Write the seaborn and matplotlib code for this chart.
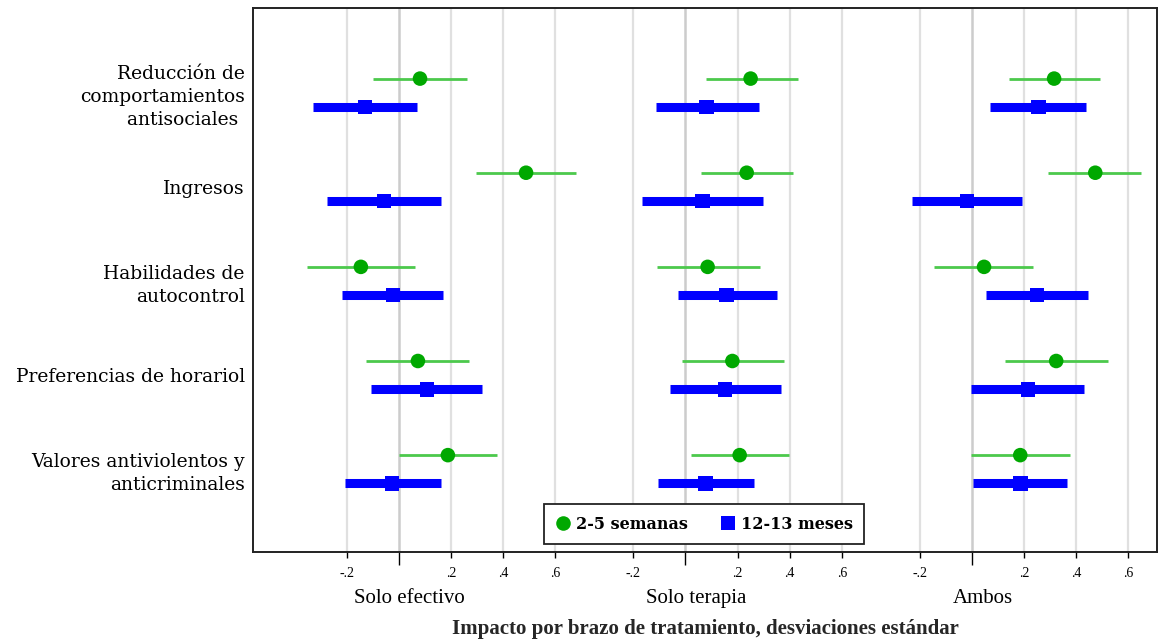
import numpy as np
import pandas as pd
import matplotlib
matplotlib.use("Agg")
import matplotlib.pyplot as plt
import matplotlib.transforms as mtransforms
import seaborn as sns

# datos (desviaciones estandar)
categorias = ["Reducción de\ncomportamientos\nantisociales ", "Ingresos",
              "Habilidades de\nautocontrol", "Preferencias de horariol",
              "Valores antiviolentos y\nanticriminales"]
brazos = ["Solo efectivo", "Solo terapia", "Ambos"]
periodos = ["2-5 semanas", "12-13 meses"]

# 2-5 semanas
efectivo_corto = [0.081, 0.488, -0.146, 0.073, 0.188]
efectivo_corto_lo = [-0.100, 0.296, -0.354, -0.127, 0.000]
efectivo_corto_hi = [0.260, 0.680, 0.062, 0.269, 0.377]
terapia_corto = [0.250, 0.235, 0.085, 0.180, 0.208]
terapia_corto_lo = [0.077, 0.058, -0.108, -0.012, 0.023]
terapia_corto_hi = [0.431, 0.412, 0.285, 0.377, 0.396]
ambos_corto = [0.315, 0.473, 0.046, 0.323, 0.185]
ambos_corto_lo = [0.142, 0.292, -0.146, 0.127, -0.004]
ambos_corto_hi = [0.492, 0.650, 0.235, 0.523, 0.377]

# 12-13 meses
efectivo_largo = [-0.130, -0.058, -0.023, 0.108, -0.027]
efectivo_largo_lo = [-0.330, -0.277, -0.220, -0.108, -0.208]
efectivo_largo_hi = [0.070, 0.160, 0.170, 0.319, 0.160]
terapia_largo = [0.081, 0.065, 0.158, 0.152, 0.077]
terapia_largo_lo = [-0.112, -0.165, -0.027, -0.058, -0.105]
terapia_largo_hi = [0.281, 0.296, 0.350, 0.365, 0.262]
ambos_largo = [0.254, -0.019, 0.250, 0.215, 0.185]
ambos_largo_lo = [0.069, -0.231, 0.054, -0.004, 0.004]
ambos_largo_hi = [0.438, 0.192, 0.446, 0.431, 0.365]

ticks_valores = [-0.2, 0.2, 0.4, 0.6]
ticks_etiquetas = ["-.2", ".2", ".4", ".6"]

# tabla larga
filas = []
series = {
    ("Solo efectivo", "2-5 semanas"): (efectivo_corto, efectivo_corto_lo, efectivo_corto_hi),
    ("Solo terapia", "2-5 semanas"): (terapia_corto, terapia_corto_lo, terapia_corto_hi),
    ("Ambos", "2-5 semanas"): (ambos_corto, ambos_corto_lo, ambos_corto_hi),
    ("Solo efectivo", "12-13 meses"): (efectivo_largo, efectivo_largo_lo, efectivo_largo_hi),
    ("Solo terapia", "12-13 meses"): (terapia_largo, terapia_largo_lo, terapia_largo_hi),
    ("Ambos", "12-13 meses"): (ambos_largo, ambos_largo_lo, ambos_largo_hi),
}
DESPLAZ = 1.1  # separacion horizontal entre brazos
for (brazo, periodo), (est, lo, hi) in series.items():
    b = brazos.index(brazo)
    dy = -0.15 if periodo == "2-5 semanas" else 0.15
    for i in range(len(categorias)):
        filas.append(dict(brazo=brazo, periodo=periodo, y=i + dy,
                          x=est[i] + b * DESPLAZ, lo=lo[i] + b * DESPLAZ,
                          hi=hi[i] + b * DESPLAZ))
df = pd.DataFrame(filas)

sns.set_style("white")
plt.rcParams["font.family"] = ["DejaVu Serif"]
plt.rcParams["text.color"] = "black"
plt.rcParams["xtick.color"] = "black"
plt.rcParams["ytick.color"] = "black"

fig = plt.figure(figsize=(11.66, 6.39), dpi=100)
ax = fig.add_axes([0.217, 0.136, 0.7753, 0.8515])

# lineas de referencia
for b in range(3):
    for v in ticks_valores:
        ax.axvline(v + b * DESPLAZ, color="#e0e0e0", lw=1.6, zorder=0)
    ax.axvline(b * DESPLAZ, color="#cccccc", lw=1.8, zorder=0)

colores = {"2-5 semanas": "#00a800", "12-13 meses": "#0000ff"}
corto = df[df.periodo == "2-5 semanas"]
largo = df[df.periodo == "12-13 meses"]
ax.hlines(corto.y, corto.lo, corto.hi, color="#4cc94c", lw=2, zorder=2)
ax.hlines(largo.y, largo.lo, largo.hi, color="#0000ff", lw=6.5, zorder=2,
          capstyle="butt")

sns.scatterplot(data=df, x="x", y="y", hue="periodo", style="periodo",
                hue_order=periodos, style_order=periodos, palette=colores,
                markers={"2-5 semanas": "o", "12-13 meses": "s"},
                s=110, edgecolor="none", linewidth=0, zorder=3, ax=ax)

ax.set_xlim(-0.56, 2.91)
ax.set_ylim(4.88, -0.90)

# ejes
xt = [v + b * DESPLAZ for b in range(3) for v in ticks_valores]
ax.set_xticks(xt)
ax.set_xticklabels(ticks_etiquetas * 3, family="Liberation Serif", fontsize=10)
ax.set_xticks([b * DESPLAZ for b in range(3)], minor=True)
ax.tick_params(axis="x", which="major", length=4, width=1, pad=7, bottom=True)
ax.tick_params(axis="x", which="minor", length=9, width=1, bottom=True)
ax.set_yticks(range(len(categorias)))
ax.set_yticklabels(categorias, fontsize=13.5, linespacing=1.35, ha="right")
ax.tick_params(axis="y", length=0, pad=6)
for s in ax.spines.values():
    s.set_color("#222222")
    s.set_linewidth(1.4)

trans = mtransforms.blended_transform_factory(ax.transData, ax.transAxes)
for b, brazo in enumerate(brazos):
    ax.text(b * DESPLAZ + 0.04, -0.086, brazo, transform=trans, ha="center",
            va="center", family="Liberation Serif", fontsize=15)

ax.set_xlabel("Impacto por brazo de tratamiento, desviaciones estándar",
              family="Liberation Serif", fontsize=15, fontweight="bold",
              labelpad=28)
ax.set_ylabel("")

handles, labels = ax.get_legend_handles_labels()
ax.legend(handles=handles, labels=labels, ncol=2, loc="center",
          bbox_to_anchor=(0.499, 0.0515), frameon=True, fancybox=False,
          edgecolor="#222222", framealpha=1, handletextpad=0.3,
          columnspacing=2.0, borderpad=0.7, handlelength=1.0,
          prop=dict(family="DejaVu Serif", weight="bold", size=11.5))
ax.get_legend().get_frame().set_linewidth(1.3)

fig.savefig("out.png", dpi=100)
